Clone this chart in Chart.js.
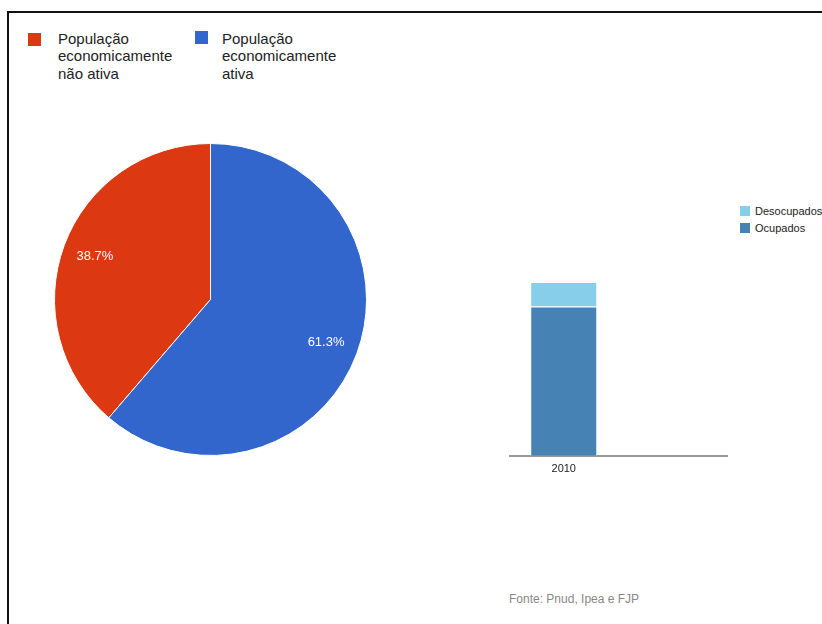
<!DOCTYPE html>
<html>
<head>
<meta charset="utf-8">
<script src="https://cdn.jsdelivr.net/npm/chart.js@4.4.0/dist/chart.umd.min.js"></script>
<style>
    html, body { margin: 0; padding: 0; background: #fff; }
    body { width: 822px; height: 624px; overflow: hidden; position: relative; font-family: Arial, "Liberation Sans", sans-serif; }
    .frame { position: absolute; left: 7px; top: 11px; width: 900px; height: 700px; border-top: 2px solid #111; border-left: 2px solid #111; }
    .pie-legend-item { position: absolute; font-size: 15px; line-height: 17.3px; color: #222; }
    .pie-legend-item .swatch { position: absolute; width: 13px; height: 13px; }
    .bar-legend-item { position: absolute; left: 740px; font-size: 11px; line-height: 12px; color: #222; white-space: nowrap; }
    .bar-legend-item .swatch { position: absolute; left: 0; top: 1px; width: 10px; height: 10px; }
    .bar-legend-item span { position: absolute; left: 15px; top: 0; }
    #pieWrap { position: absolute; left: 54px; top: 143px; width: 313px; height: 313px; }
    #barWrap { position: absolute; left: 509px; top: 250px; width: 219px; height: 233px; }
    .source { position: absolute; left: 509px; top: 592px; font-size: 12px; color: #888; }
</style>
</head>
<body>
<div class="frame"></div>
<div id="pieLegend"></div>
<div id="barLegend"></div>
<div id="pieWrap"><canvas id="pieChart"></canvas></div>
<div id="barWrap"><canvas id="barChart"></canvas></div>
<div class="source">Fonte: Pnud, Ipea e FJP</div>

<script>
    // Pie: economically active vs inactive population (%)
    const pieLabels = ['População\neconomicamente\nnão ativa', 'População\neconomicamente\nativa'];
    const pieValues = [38.7, 61.3];
    const pieColors = ['#DC3912', '#3366CC'];

    // Stacked bar: employed / unemployed
    const barCategories = ['2010', ''];
    const ocupados = [6090, null];
    const desocupados = [1000, null];
    const barColors = { ocupados: '#4682B4', desocupados: '#87CEEB' };
    const barMax = 8400;

    // Legends
    function renderPieLegend() {
        const box = document.getElementById('pieLegend');
        const spots = [{ sx: 28, sy: 33, tx: 58 }, { sx: 195, sy: 31, tx: 222 }];
        pieLabels.forEach((label, i) => {
            const item = document.createElement('div');
            item.className = 'pie-legend-item';
            item.style.left = spots[i].sx + 'px';
            item.style.top = '30px';
            item.innerHTML = `
                <div class="swatch" style="left:0;top:${spots[i].sy - 30}px;background:${pieColors[i]}"></div>
                <div style="position:absolute;left:${spots[i].tx - spots[i].sx}px;top:0;white-space:nowrap">${label.split('\n').join('<br>')}</div>
            `;
            box.appendChild(item);
        });
    }

    function renderBarLegend() {
        const box = document.getElementById('barLegend');
        const items = [
            { label: 'Desocupados', color: barColors.desocupados, top: 205 },
            { label: 'Ocupados', color: barColors.ocupados, top: 222 }
        ];
        items.forEach(it => {
            const el = document.createElement('div');
            el.className = 'bar-legend-item';
            el.style.top = it.top + 'px';
            el.innerHTML = `<div class="swatch" style="background:${it.color}"></div><span>${it.label}</span>`;
            box.appendChild(el);
        });
    }

    // Percentage labels inside the slices
    const sliceLabels = {
        id: 'sliceLabels',
        afterDatasetsDraw(chart) {
            const ctx = chart.ctx;
            const meta = chart.getDatasetMeta(0);
            ctx.save();
            ctx.font = '13px Arial, "Liberation Sans", sans-serif';
            ctx.fillStyle = '#fff';
            ctx.textAlign = 'center';
            ctx.textBaseline = 'middle';
            meta.data.forEach((arc, i) => {
                const p = arc.getProps(['x', 'y', 'startAngle', 'endAngle', 'outerRadius']);
                const mid = (p.startAngle + p.endAngle) / 2;
                const r = p.outerRadius * 0.79;
                ctx.fillText(pieValues[i].toFixed(1) + '%', p.x + Math.cos(mid) * r, p.y + Math.sin(mid) * r);
            });
            ctx.restore();
        }
    };

    function renderPie() {
        new Chart(document.getElementById('pieChart'), {
            type: 'pie',
            data: {
                labels: pieLabels,
                datasets: [{
                    data: pieValues,
                    backgroundColor: pieColors,
                    borderColor: '#fff',
                    borderWidth: 1
                }]
            },
            options: {
                responsive: true,
                maintainAspectRatio: false,
                animation: false,
                rotation: 360 * pieValues[1] / 100,
                layout: { padding: 0 },
                plugins: { legend: { display: false }, tooltip: { enabled: false } }
            },
            plugins: [sliceLabels]
        });
    }

    function renderBar() {
        new Chart(document.getElementById('barChart'), {
            type: 'bar',
            data: {
                labels: barCategories,
                datasets: [
                    { label: 'Ocupados', data: ocupados, backgroundColor: barColors.ocupados, borderColor: 'rgba(255,255,255,0.7)', borderWidth: 1 },
                    { label: 'Desocupados', data: desocupados, backgroundColor: barColors.desocupados, borderColor: 'rgba(255,255,255,0.7)', borderWidth: 1 }
                ]
            },
            options: {
                responsive: true,
                maintainAspectRatio: false,
                animation: false,
                layout: { padding: 0 },
                datasets: { bar: { categoryPercentage: 1, barPercentage: 0.612 } },
                scales: {
                    x: {
                        stacked: true,
                        grid: { display: false, drawTicks: false },
                        border: { display: true, color: '#999', width: 2 },
                        ticks: { color: '#222', padding: 7, font: { family: 'Arial', size: 11 } }
                    },
                    y: { stacked: true, display: false, min: 0, max: barMax }
                },
                plugins: { legend: { display: false }, tooltip: { enabled: false } }
            }
        });
    }

    document.addEventListener('DOMContentLoaded', () => {
        renderPieLegend();
        renderBarLegend();
        renderPie();
        renderBar();
    });
</script>
</body>
</html>
